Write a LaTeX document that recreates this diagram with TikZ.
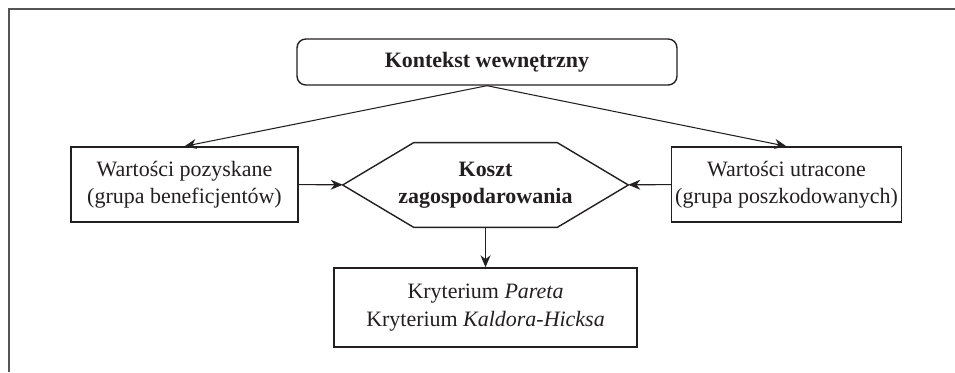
\documentclass[tikz,border=0pt]{standalone}
\usepackage{fontspec}
\setmainfont{Liberation Serif}
\usetikzlibrary{arrows.meta,positioning}
\definecolor{Ink}{HTML}{231F20}
\definecolor{FrameC}{HTML}{555555}

\begin{document}
\begin{tikzpicture}[x=0.02cm, y=-0.02cm,
  box/.style={draw=Ink, line width=0.8pt, align=center, font=\fontsize{12.5}{15.5}\selectfont, text=Ink, inner sep=2pt},
  hexa/.style={align=center, font=\fontsize{12.5}{15.5}\selectfont\bfseries, text=Ink, minimum width=5.7cm, minimum height=1.68cm, inner sep=1pt},
  arr/.style={-{Stealth[length=2.4mm, width=2mm]}, Ink, line width=0.6pt}
]
\useasboundingbox (0,0) rectangle (955,372);
% frame
\draw[FrameC, line width=0.8pt] (9,372) -- (9,9) -- (955,9);

% boxes
\node[box, rounded corners=5pt, minimum width=7.6cm, minimum height=0.92cm, font=\fontsize{12.5}{15.5}\selectfont\bfseries] (ctx) at (487,62) {Kontekst wewnętrzny};
\node[box, minimum width=4.54cm, minimum height=1.5cm] (gain) at (184.5,184.5) {Wartości pozyskane\\(grupa beneficjentów)};
\node[box, minimum width=4.54cm, minimum height=1.5cm] (loss) at (786.5,184.5) {Wartości utracone\\(grupa poszkodowanych)};
\node[hexa] (cost) at (485.5,185) {Koszt\\zagospodarowania};
\draw[Ink, line width=0.8pt] (cost.west) -- ([xshift=1.42cm]cost.north west) -- ([xshift=-1.42cm]cost.north east)
  -- (cost.east) -- ([xshift=-1.42cm]cost.south east) -- ([xshift=1.42cm]cost.south west) -- cycle;
\node[box, minimum width=6.06cm, minimum height=1.58cm] (crit) at (485.5,307.5) {Kryterium \textit{Pareta}\\Kryterium \textit{Kaldora-Hicksa}};

% arrows
\draw[arr] (ctx.south) -- (gain.north);
\draw[arr] (ctx.south) -- (loss.north);
\draw[arr] (gain) -- (cost);
\draw[arr] (loss) -- (cost);
\draw[arr] (cost) -- (crit);
\end{tikzpicture}
\end{document}
